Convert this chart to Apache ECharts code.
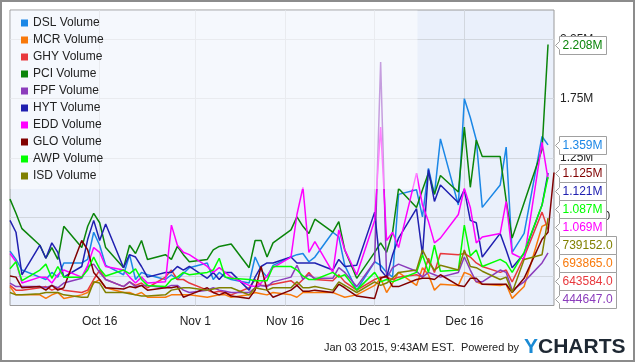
<!DOCTYPE html>
<html><head><meta charset="utf-8">
<script src="https://cdn.jsdelivr.net/npm/echarts@6/dist/echarts.min.js"></script>
<style>html,body{margin:0;padding:0;background:#fff}#c{width:635px;height:362px}</style>
</head><body><div id="c"></div><script>
// Trading days Oct 1 - Dec 31, 2014
const dates = [
 '2014-10-01','2014-10-02','2014-10-03','2014-10-06','2014-10-07','2014-10-08','2014-10-09','2014-10-10',
 '2014-10-13','2014-10-14','2014-10-15','2014-10-16','2014-10-17','2014-10-20','2014-10-21','2014-10-22',
 '2014-10-23','2014-10-24','2014-10-27','2014-10-28','2014-10-29','2014-10-30','2014-10-31',
 '2014-11-03','2014-11-04','2014-11-05','2014-11-06','2014-11-07','2014-11-10','2014-11-11','2014-11-12',
 '2014-11-13','2014-11-14','2014-11-17','2014-11-18','2014-11-19','2014-11-20','2014-11-21','2014-11-24',
 '2014-11-25','2014-11-26','2014-11-28',
 '2014-12-01','2014-12-02','2014-12-03','2014-12-04','2014-12-05','2014-12-08','2014-12-09','2014-12-10',
 '2014-12-11','2014-12-12','2014-12-15','2014-12-16','2014-12-17','2014-12-18','2014-12-19','2014-12-22',
 '2014-12-23','2014-12-24','2014-12-26','2014-12-29','2014-12-30','2014-12-31'
];
// Volumes in millions of shares
const DSL = [0.46,0.39,0.30,0.24,0.22,0.28,0.24,0.36,0.36,0.39,0.62,0.51,0.34,0.26,0.43,0.22,0.28,0.26,0.22,0.26,0.22,0.27,0.32,
 0.36,0.22,0.28,0.24,0.22,0.19,0.41,0.30,0.24,0.34,0.41,0.43,0.44,0.37,0.41,0.62,0.58,0.34,0.13,
 0.37,0.34,0.28,0.24,0.94,0.98,0.75,1.16,0.94,1.41,0.85,1.75,1.59,1.40,0.83,1.02,1.34,0.45,0.61,1.43,1.359];
const MCR = [0.16,0.09,0.09,0.09,0.06,0.09,0.11,0.06,0.09,0.11,0.19,0.22,0.15,0.11,0.11,0.09,0.11,0.07,0.07,0.09,0.09,0.09,0.09,
 0.07,0.08,0.09,0.09,0.07,0.09,0.11,0.10,0.09,0.11,0.09,0.07,0.11,0.11,0.11,0.11,0.09,0.07,0.09,
 0.17,0.23,0.11,0.19,0.28,0.17,0.32,0.26,0.13,0.18,0.17,0.28,0.26,0.20,0.18,0.17,0.18,0.06,0.16,0.67,0.693865];
const GHY = [0.17,0.13,0.13,0.15,0.16,0.13,0.15,0.13,0.11,0.13,0.22,0.30,0.22,0.16,0.20,0.17,0.19,0.15,0.24,0.30,0.22,0.22,0.19,
 0.13,0.11,0.12,0.11,0.09,0.15,0.22,0.17,0.17,0.18,0.21,0.17,0.22,0.28,0.22,0.21,0.26,0.20,0.13,
 0.22,0.24,0.24,0.22,0.24,0.26,0.24,0.40,0.28,0.44,0.43,0.44,0.41,0.36,0.33,0.28,0.30,0.20,0.41,0.79,0.643584];
const PCI = [0.90,0.78,0.65,0.51,0.40,0.49,0.39,0.67,0.49,0.67,0.78,0.70,0.49,0.32,0.51,0.44,0.55,0.39,0.43,0.39,0.50,0.43,0.37,
 0.39,0.47,0.50,0.51,0.52,0.32,0.55,0.55,0.41,0.53,0.64,0.75,0.67,0.61,0.73,0.62,0.71,0.47,0.23,
 0.45,0.53,0.45,0.62,0.99,0.83,0.98,1.12,0.94,1.10,0.96,1.51,1.00,1.40,1.26,1.26,0.89,0.57,0.87,1.32,2.208];
const FPF = [0.19,0.16,0.16,0.16,0.15,0.17,0.15,0.19,0.23,0.33,0.35,0.28,0.22,0.16,0.20,0.16,0.17,0.17,0.15,0.17,0.17,0.13,0.11,
 0.13,0.15,0.13,0.12,0.11,0.11,0.15,0.17,0.16,0.20,0.24,0.34,0.22,0.26,0.23,0.23,0.32,0.28,0.16,
 0.37,2.06,0.23,0.32,0.35,0.29,0.24,0.28,0.26,0.24,0.28,0.41,0.30,0.20,0.20,0.30,0.28,0.13,0.20,0.36,0.444647];
const HYT = [0.72,0.62,0.26,0.51,0.40,0.53,0.45,0.24,0.33,0.56,0.72,0.55,0.69,0.32,0.43,0.41,0.33,0.24,0.28,0.28,0.33,0.30,0.33,
 0.23,0.28,0.22,0.28,0.28,0.13,0.24,0.33,0.36,0.36,0.41,0.36,0.36,0.36,0.36,0.30,0.39,0.33,0.34,
 0.79,0.30,0.24,0.43,0.57,0.82,0.43,1.15,0.88,1.02,0.87,0.98,0.72,0.70,0.41,0.61,0.47,0.32,0.44,0.85,1.121];
const EDD = [0.44,0.37,0.19,0.24,0.24,0.19,0.26,0.30,0.24,0.34,0.49,0.45,0.33,0.30,0.24,0.19,0.24,0.19,0.20,0.68,0.51,0.45,0.43,
 0.33,0.28,0.32,0.28,0.24,0.17,0.16,0.19,0.25,0.32,0.41,0.77,1.00,0.45,0.54,0.28,0.64,0.47,0.26,
 0.72,1.51,0.55,0.62,0.49,1.12,0.85,0.71,0.53,0.57,0.77,0.99,0.83,0.53,0.58,0.61,0.88,0.44,0.39,1.38,1.069];
const GLO = [0.25,0.24,0.15,0.16,0.13,0.17,0.13,0.15,0.55,0.47,0.28,0.22,0.15,0.14,0.16,0.15,0.17,0.13,0.15,0.15,0.16,0.07,0.09,
 0.15,0.11,0.09,0.11,0.08,0.06,0.13,0.33,0.13,0.07,0.13,0.17,0.12,0.12,0.13,0.11,0.18,0.15,0.08,
 0.06,0.23,0.25,0.16,0.16,0.22,0.23,0.23,0.22,0.26,0.17,0.16,0.23,0.23,0.18,0.18,0.18,0.11,0.23,0.56,0.62,1.125];
const AWP = [0.31,0.37,0.21,0.30,0.35,0.23,0.33,0.24,0.24,0.30,0.41,0.31,0.25,0.30,0.27,0.31,0.22,0.17,0.16,0.22,0.24,0.28,0.26,
 0.28,0.30,0.40,0.24,0.23,0.22,0.21,0.21,0.21,0.33,0.33,0.30,0.25,0.22,0.22,0.28,0.24,0.26,0.13,
 0.28,0.20,0.22,0.20,0.22,0.28,0.43,0.28,0.51,0.29,0.30,0.68,0.42,0.47,0.33,0.39,0.36,0.28,0.45,0.85,1.087];
const ISD = [0.11,0.09,0.09,0.10,0.11,0.11,0.11,0.09,0.07,0.07,0.20,0.19,0.11,0.11,0.10,0.09,0.08,0.08,0.09,0.13,0.14,0.15,0.15,
 0.13,0.14,0.15,0.15,0.15,0.09,0.15,0.14,0.13,0.15,0.15,0.20,0.15,0.15,0.16,0.13,0.20,0.17,0.11,
 0.20,0.17,0.19,0.23,0.28,0.30,0.47,0.37,0.30,0.34,0.30,0.47,0.33,0.32,0.29,0.22,0.24,0.11,0.39,0.43,0.739152];

const names = ['DSL Volume','MCR Volume','GHY Volume','PCI Volume','FPF Volume','HYT Volume','EDD Volume','GLO Volume','AWP Volume','ISD Volume'];
const valueLists = [DSL, MCR, GHY, PCI, FPF, HYT, EDD, GLO, AWP, ISD];
const colors = ['#1b87e6','#f8790b','#e8383d','#0a850a','#8b3cbc','#2020b0','#ff00ff','#800000','#00ff00','#808000'];
const yTicks = [250000, 750000, 1250000, 1750000, 2250000];
const xTickDates = ['2014-10-16','2014-11-01','2014-11-16','2014-12-01','2014-12-16'];
const xRange = ['2014-10-01','2014-12-31'];
const footerText = 'Jan 03 2015, 9:43AM EST.  Powered by';

const MONTHS = ['Jan','Feb','Mar','Apr','May','Jun','Jul','Aug','Sep','Oct','Nov','Dec'];
function ts(s){ const p = s.split('-'); return Date.UTC(+p[0], +p[1]-1, +p[2]); }
const FONT = '"Liberation Sans", Arial, Helvetica, sans-serif';

function fmtVol(v){
  v = Math.round(v);
  if (v >= 1e6) { return (v/1e6).toString() + 'M'; }
  return v.toFixed(1);
}
function fmtFlag(v){
  v = Math.round(v);
  if (v >= 1e6) { return (v/1e6).toFixed(3) + 'M'; }
  return v.toFixed(1);
}

const chart = echarts.init(document.getElementById('c'), null, {renderer:'canvas'});
const xTicks = xTickDates.map(ts);

const series = names.map((n, k) => ({
  name: n,
  type: 'line',
  showSymbol: false,
  symbol: 'none',
  z: 2,
  lineStyle: { width: 1.5, color: colors[k] },
  itemStyle: { color: colors[k] },
  emphasis: { disabled: true },
  data: valueLists[k].map((v, i) => [ts(dates[i]), v * 1e6])
}));

const option = {
  animation: false,
  backgroundColor: '#ffffff',
  textStyle: { fontFamily: FONT },
  grid: { left: 10, top: 10, right: 81, bottom: 56.5, show: true, backgroundColor: '#eaf0fb', borderColor: '#9a9a9a', borderWidth: 1 },
  legend: {
    data: names, orient: 'vertical', left: 21, top: 17, padding: 0,
    icon: 'rect', itemWidth: 7, itemHeight: 7, itemGap: 5, selectedMode: false,
    textStyle: { fontSize: 12, color: '#222', fontFamily: FONT, lineHeight: 12 }
  },
  xAxis: {
    type: 'value', min: ts(xRange[0]), max: ts(xRange[1]), scale: true,
    axisLine: { show: false },
    axisTick: { show: false, customValues: xTicks },
    axisLabel: { customValues: xTicks, color: '#222', fontSize: 12, fontFamily: FONT, margin: 10,
      formatter: function(v){ const d = new Date(v); return MONTHS[d.getUTCMonth()] + ' ' + d.getUTCDate(); } },
    splitLine: { show: true, lineStyle: { color: '#d2d7de', width: 1 } }
  },
  yAxis: {
    type: 'value', position: 'right', min: 0, max: 2500000,
    axisLine: { show: false },
    axisTick: { show: false, customValues: yTicks },
    axisLabel: { customValues: yTicks, color: '#222', fontSize: 12, fontFamily: FONT, margin: 6, formatter: fmtVol },
    splitLine: { show: true, lineStyle: { color: '#d2d7de', width: 1 } }
  },
  series: series
};
chart.setOption(option);

// value flags on the right, pushed down to avoid overlap
const cv = document.createElement('canvas').getContext('2d');
cv.font = '12px ' + FONT;
const last = valueLists.map((vals, k) => ({ v: vals[vals.length-1] * 1e6, color: colors[k] }));
last.sort((a, b) => b.v - a.v);
let prevY = -1e9;
const flagEls = [];
const gridRight = chart.convertToPixel({xAxisIndex:0}, ts(xRange[1]));
last.forEach(p => {
  let y = chart.convertToPixel({yAxisIndex:0}, p.v);
  if (y < prevY + 18) y = prevY + 18;
  prevY = y;
  const txt = fmtFlag(p.v);
  const w = Math.round(cv.measureText(txt).width) + 7;
  const yy = Math.round(y) + 0.5;
  const x0 = Math.round(gridRight) + 1.5;
  flagEls.push({
    type: 'group', z: 100,
    children: [
      { type: 'polygon', z: 100,
        shape: { points: [[x0, yy], [x0+4, yy-4], [x0+4, yy-9], [x0+4+w, yy-9], [x0+4+w, yy+9], [x0+4, yy+9], [x0+4, yy+4]] },
        style: { fill: '#ffffff', stroke: '#a0a0a0', lineWidth: 1 } },
      { type: 'text', z: 101, x: x0 + 7, y: yy,
        style: { text: txt, fill: p.color, font: '12px ' + FONT, verticalAlign: 'middle', align: 'left' } }
    ]
  });
});

const graphics = [
  { type: 'rect', z: 3, silent: true, shape: { x: 10.5, y: 10.5, width: 407, height: 178.5 },
    style: { fill: 'rgba(255,255,255,0.5)' } },
  { type: 'rect', z: 100, silent: true, shape: { x: 1, y: 1, width: 633, height: 360 },
    style: { fill: 'none', stroke: '#8c8c8c', lineWidth: 2 } },
  { type: 'text', z: 100, x: 519, y: 348,
    style: { text: footerText, fill: '#222', font: '11px ' + FONT, align: 'right', verticalAlign: 'middle' } },
  { type: 'text', z: 100, x: 524, y: 347,
    style: { text: '{a|Y}{b|CHARTS}', verticalAlign: 'middle', align: 'left',
      rich: { a: { fill: '#1a8ad4', font: 'bold 21px ' + FONT }, b: { fill: '#1e2833', font: 'bold 21px ' + FONT } } } }
].concat(flagEls);

chart.setOption({ graphic: { elements: graphics } });
</script></body></html>
